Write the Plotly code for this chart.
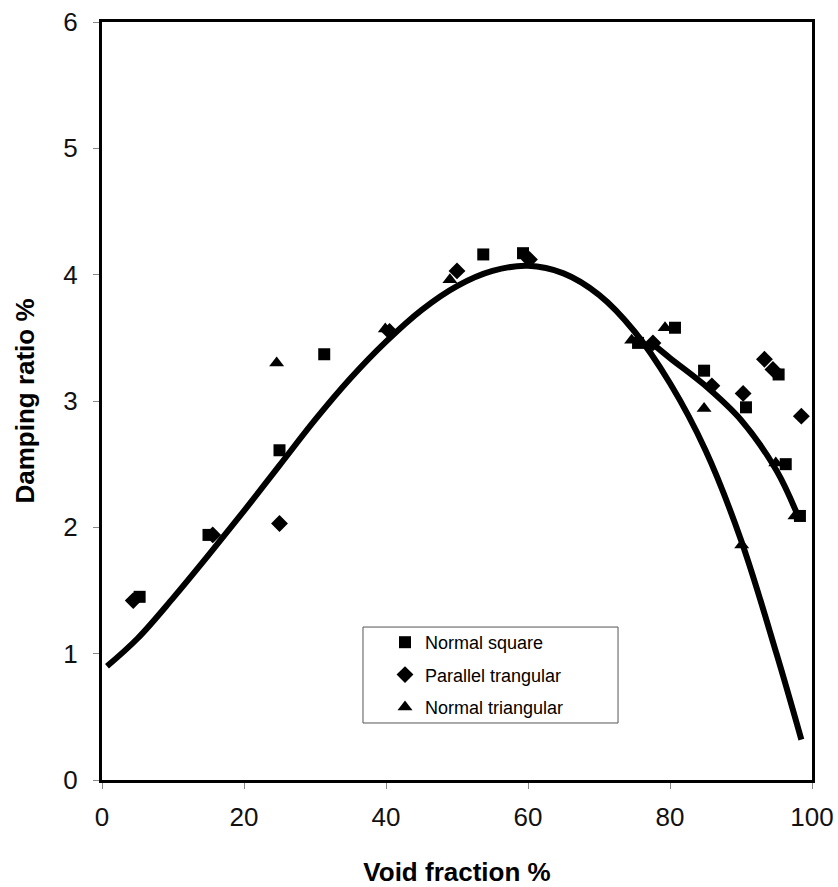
import plotly.graph_objects as go

# Data
sq_x = [5.3, 15.0, 25.0, 31.3, 53.7, 59.3, 75.5, 80.7, 84.8, 90.7, 95.3, 96.3, 98.3]
sq_y = [1.45, 1.94, 2.61, 3.37, 4.16, 4.17, 3.46, 3.58, 3.24, 2.95, 3.21, 2.50, 2.09]

dia_x = [4.4, 15.6, 25.0, 40.5, 50.0, 60.2, 77.6, 85.9, 90.3, 93.3, 94.5, 98.5]
dia_y = [1.42, 1.94, 2.03, 3.55, 4.03, 4.12, 3.46, 3.12, 3.06, 3.33, 3.25, 2.88]

tri_x = [24.6, 39.9, 49.0, 74.6, 79.3, 84.8, 90.1, 94.9, 97.6]
tri_y = [3.30, 3.57, 3.96, 3.48, 3.58, 2.94, 1.86, 2.51, 2.09]

# Trend curves
c1_x = [0.7, 5, 10, 15, 20, 25, 30, 35, 40, 45, 50, 55, 60, 65, 70, 75, 80, 85, 90, 95, 98.5]
c1_y = [0.90, 1.12, 1.44, 1.78, 2.13, 2.49, 2.85, 3.18, 3.47, 3.72, 3.91, 4.03, 4.07, 4.01, 3.84, 3.55, 3.14, 2.61, 1.90, 1.00, 0.32]

c2_x = [77.4, 80, 85, 90, 95, 97.8]
c2_y = [3.46, 3.34, 3.12, 2.85, 2.45, 2.12]

x_ticks = [0, 20, 40, 60, 80, 100]
y_ticks = [0, 1, 2, 3, 4, 5, 6]

FONT = "Liberation Sans, Arial, sans-serif"

fig = go.Figure()

for cx, cy in ((c1_x, c1_y), (c2_x, c2_y)):
    fig.add_trace(go.Scatter(x=cx, y=cy, mode="lines",
                             line=dict(color="black", width=6, shape="spline", smoothing=1.0),
                             showlegend=False, hoverinfo="skip"))

fig.add_trace(go.Scatter(x=sq_x, y=sq_y, mode="markers", name="Normal square", legendgroup="a",
                         marker=dict(symbol="square", size=12, color="black")))
fig.add_trace(go.Scatter(x=dia_x, y=dia_y, mode="markers", name="Parallel trangular", legendgroup="b",
                         marker=dict(symbol="diamond", size=13, color="black")))
fig.add_trace(go.Scatter(x=tri_x, y=tri_y, mode="markers", name="Normal triangular", legendgroup="c",
                         marker=dict(symbol="triangle-up", size=13, color="black")))

axis_common = dict(showgrid=False, zeroline=False, showline=True, linecolor="black", linewidth=3, mirror=True,
                   ticks="outside", ticklen=6, tickcolor="#888", tickwidth=1, automargin=False,
                   tickfont=dict(family=FONT, size=26, color="#111"))

fig.update_xaxes(range=[0, 100], tickvals=x_ticks, ticktext=[str(v) for v in x_ticks], ticklabelstandoff=6,
                 title=dict(text="<b>Void fraction %</b>", font=dict(family=FONT, size=26, color="black"), standoff=35),
                 **axis_common)
fig.update_yaxes(range=[0, 6], tickvals=y_ticks, ticktext=[str(v) for v in y_ticks], ticklabelstandoff=10,
                 title=dict(text="<b>Damping ratio %</b>", font=dict(family=FONT, size=26, color="black"), standoff=22),
                 **axis_common)

# legend frame
fig.add_shape(type="rect", xref="paper", yref="paper", x0=0.3676, x1=0.7268, y0=0.0752, y1=0.2018,
              line=dict(color="#555", width=1), fillcolor="white", layer="below")

fig.update_layout(
    width=838, height=887,
    margin=dict(l=102, r=26, t=22, b=107, autoexpand=False),
    paper_bgcolor="white", plot_bgcolor="white",
    legend=dict(x=0.3986, y=0.2058, xanchor="left", yanchor="top",
                bgcolor="rgba(0,0,0,0)", borderwidth=0,
                font=dict(family=FONT, size=18, color="black"),
                traceorder="grouped", tracegroupgap=6, itemwidth=30),
)

fig.write_html("out.html")
